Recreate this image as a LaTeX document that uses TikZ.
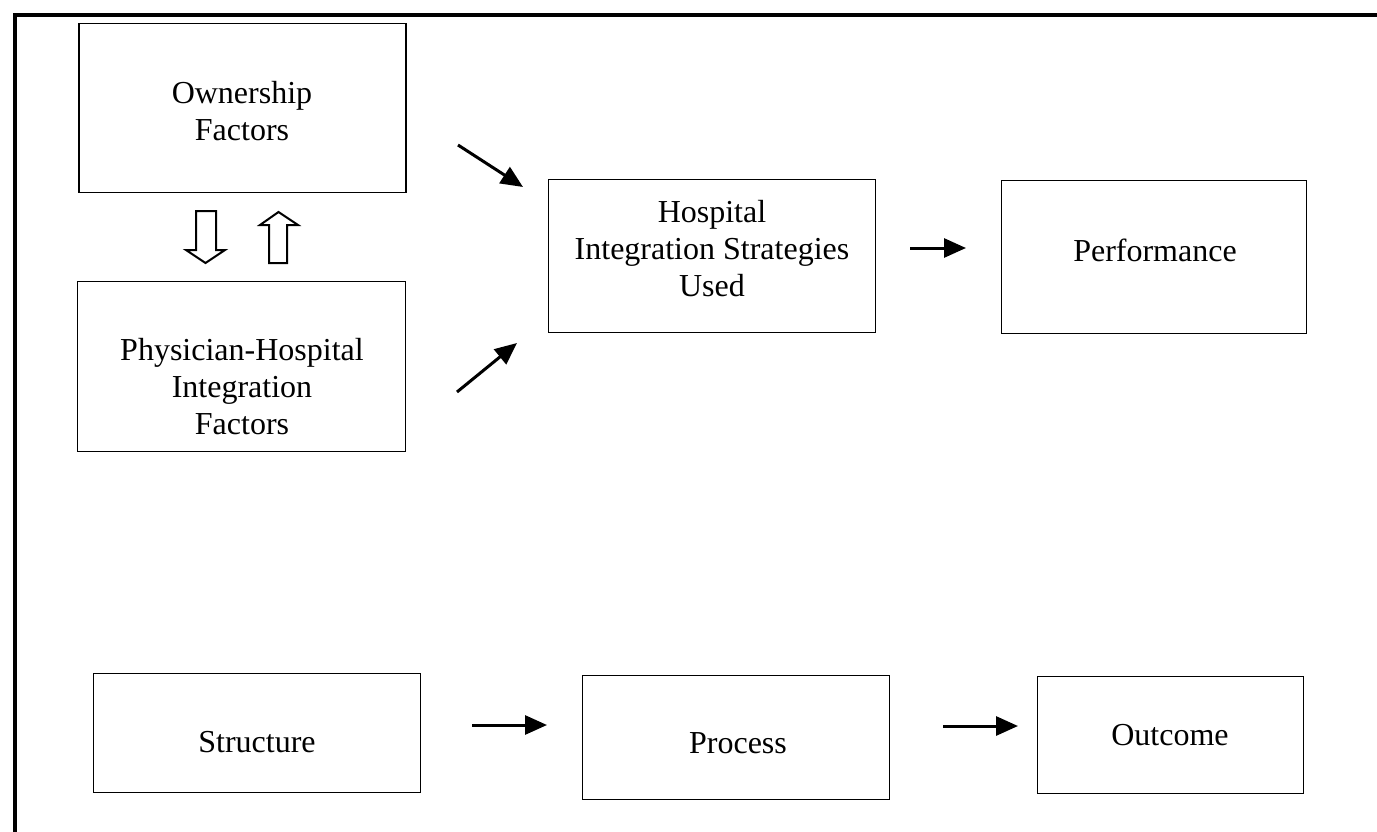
\documentclass[tikz,border=0pt]{standalone}
\usepackage{fontspec}
\setmainfont{Liberation Serif}
\usetikzlibrary{arrows.meta}
\begin{document}
\begin{tikzpicture}[x=1pt,y=-1pt,
  box/.style={draw, line width=1.4pt, inner sep=0pt},
  txt/.style={align=center, font=\fontsize{32}{37}\selectfont, inner sep=0pt},
  conn/.style={line width=3pt, -{Triangle[length=22pt,width=19pt]}},
  hollow/.style={draw, line width=2pt, line join=miter, fill=white}]
\useasboundingbox (0,0) rectangle (1377,832);
\draw[line width=4pt] (1377,15) -- (15,15) -- (15,832);

% boxes
\node[box, minimum width=327pt, minimum height=169pt] (own) at (242.5,108) {};
\node[txt] (owntxt) at (242,111.5) {Ownership\\Factors};

\node[box, minimum width=328pt, minimum height=170pt] (phys) at (241.5,366.5) {};
\node[txt] (phystxt) at (242,386.5) {Physician-Hospital\\Integration\\Factors};

\node[box, minimum width=327pt, minimum height=153pt] (hosp) at (712,256) {};
\node[txt] (hosptxt) at (712,249) {Hospital\\Integration Strategies\\Used};

\node[box, minimum width=305pt, minimum height=153pt] (perf) at (1154,257) {};
\node[txt] (perftxt) at (1155,250) {Performance};

\node[box, minimum width=327pt, minimum height=119pt] (struct) at (257,733) {};
\node[txt] (structtxt) at (257,742) {Structure};

\node[box, minimum width=307pt, minimum height=124pt] (proc) at (736,737.5) {};
\node[txt] (proctxt) at (738,743) {Process};

\node[box, minimum width=266pt, minimum height=117pt] (out) at (1170.5,735) {};
\node[txt] (outtxt) at (1170,735) {Outcome};

% hollow double arrows between ownership and physician boxes
\path[hollow] (196,211) -- (216,211) -- (216,250) -- (225,250) -- (205.5,263)
  -- (186,250) -- (196,250) -- cycle;
\path[hollow] (269,263) -- (287,263) -- (287,225) -- (298,225) -- (278.5,212)
  -- (260,225) -- (269,225) -- cycle;

% connector end points
\coordinate (d1s) at (458,145);
\coordinate (d1e) at (523,187);
\coordinate (d2s) at (457,392);
\coordinate (d2e) at (517,343);
\coordinate (p1s) at (910,248);
\coordinate (p1e) at (966,248);
\coordinate (s1s) at (472,725);
\coordinate (s1e) at (547,725);
\coordinate (o1s) at (943,726);
\coordinate (o1e) at (1018,726);

\draw[conn] (d1s) -- (d1e);
\draw[conn] (d2s) -- (d2e);
\draw[conn] (p1s) -- (p1e);
\draw[conn] (s1s) -- (s1e);
\draw[conn] (o1s) -- (o1e);
\end{tikzpicture}
\end{document}
